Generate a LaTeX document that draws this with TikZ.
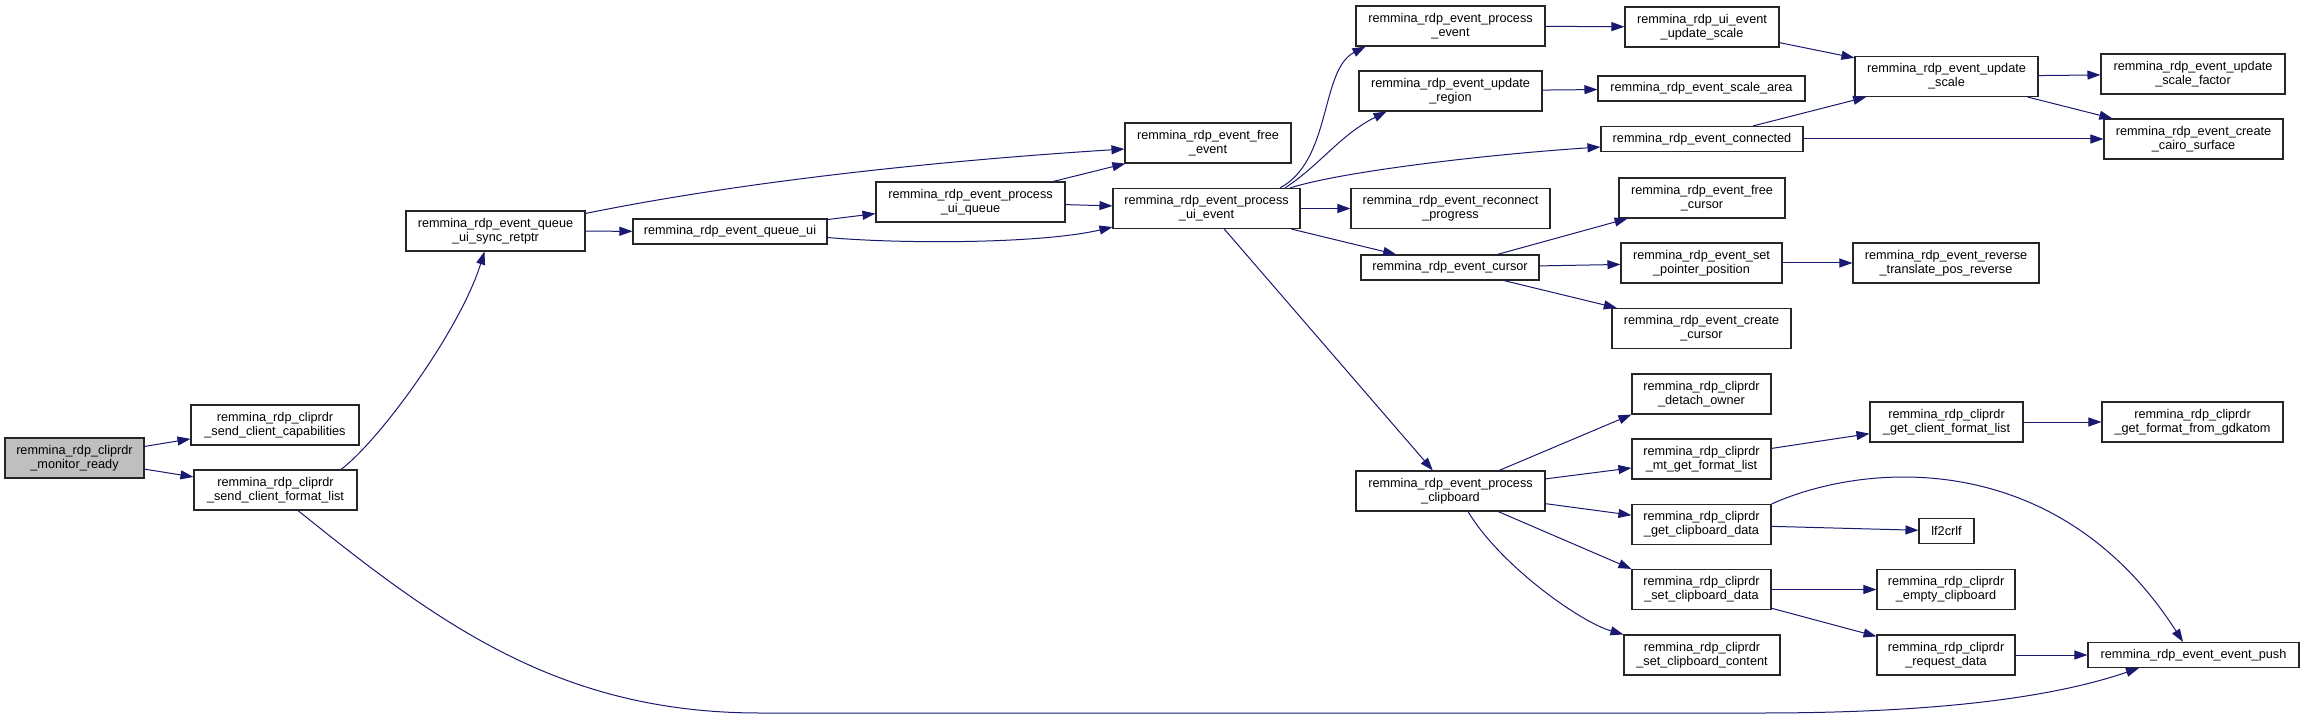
\documentclass[tikz,border=0pt]{standalone}
\usepackage{fontspec}
\setmainfont{Liberation Sans}
\usetikzlibrary{arrows.meta,calc}
\definecolor{edgeblue}{HTML}{191970}
\begin{document}
\begin{tikzpicture}[x=1pt,y=-1pt,
  box/.style={draw=black!85, line width=1.1pt, fill=white, inner sep=0pt, align=center,
    font=\fontsize{12.7pt}{14.3pt}\selectfont},
  tall/.style={minimum height=40pt},
  flat/.style={minimum height=25pt},
  call/.style={draw=edgeblue, line width=1pt, -{Triangle[length=13pt,width=9pt]}, fill=none},
]
\useasboundingbox[fill=white] (0,0) rectangle (2304,719);

% nodes
\node[box,tall,minimum width=139pt,fill=black!25] (mr) at (74.5,458) {remmina\_rdp\_cliprdr\\\_monitor\_ready};
\node[box,tall,minimum width=168pt] (scc) at (275,425) {remmina\_rdp\_cliprdr\\\_send\_client\_capabilities};
\node[box,tall,minimum width=163pt] (scfl) at (275.5,490) {remmina\_rdp\_cliprdr\\\_send\_client\_format\_list};
\node[box,tall,minimum width=179pt] (retptr) at (495.5,231) {remmina\_rdp\_event\_queue\\\_ui\_sync\_retptr};
\node[box,flat,minimum width=194pt] (qui) at (730,231.5) {remmina\_rdp\_event\_queue\_ui};
\node[box,tall,minimum width=189pt] (puiq) at (970.5,202) {remmina\_rdp\_event\_process\\\_ui\_queue};
\node[box,tall,minimum width=166pt] (fe) at (1208,143) {remmina\_rdp\_event\_free\\\_event};
\node[box,tall,minimum width=187pt] (puie) at (1206.5,208.5) {remmina\_rdp\_event\_process\\\_ui\_event};
\node[box,tall,minimum width=189pt] (pe) at (1450.5,26) {remmina\_rdp\_event\_process\\\_event};
\node[box,tall,minimum width=154pt] (uius) at (1702,27) {remmina\_rdp\_ui\_event\\\_update\_scale};
\node[box,tall,minimum width=183pt] (ur) at (1450.5,91) {remmina\_rdp\_event\_update\\\_region};
\node[box,flat,minimum width=207pt] (sa) at (1701.5,88.5) {remmina\_rdp\_event\_scale\_area};
\node[box,tall,minimum width=183pt] (eus) at (1946.5,76.5) {remmina\_rdp\_event\_update\\\_scale};
\node[box,tall,minimum width=184pt] (usf) at (2193,74) {remmina\_rdp\_event\_update\\\_scale\_factor};
\node[box,flat,minimum width=202pt] (conn) at (1702,139) {remmina\_rdp\_event\_connected};
\node[box,tall,minimum width=179pt] (ccs) at (2193.5,139) {remmina\_rdp\_event\_create\\\_cairo\_surface};
\node[box,tall,minimum width=199pt] (rp) at (1450.5,208.5) {remmina\_rdp\_event\_reconnect\\\_progress};
\node[box,tall,minimum width=166pt] (fc) at (1702,198) {remmina\_rdp\_event\_free\\\_cursor};
\node[box,flat,minimum width=178pt] (cur) at (1450,267.5) {remmina\_rdp\_event\_cursor};
\node[box,tall,minimum width=161pt] (spp) at (1701.5,263) {remmina\_rdp\_event\_set\\\_pointer\_position};
\node[box,tall,minimum width=186pt] (rtp) at (1946,263) {remmina\_rdp\_event\_reverse\\\_translate\_pos\_reverse};
\node[box,tall,minimum width=179pt] (cc) at (1701.5,328.5) {remmina\_rdp\_event\_create\\\_cursor};
\node[box,tall,minimum width=189pt] (pcb) at (1450.5,491) {remmina\_rdp\_event\_process\\\_clipboard};
\node[box,tall,minimum width=139pt] (det) at (1701.5,394) {remmina\_rdp\_cliprdr\\\_detach\_owner};
\node[box,tall,minimum width=139pt] (mgfl) at (1701.5,459) {remmina\_rdp\_cliprdr\\\_mt\_get\_format\_list};
\node[box,tall,minimum width=139pt] (gcd) at (1701.5,524.5) {remmina\_rdp\_cliprdr\\\_get\_clipboard\_data};
\node[box,flat,minimum width=55pt] (lf) at (1946.5,531) {lf2crlf};
\node[box,tall,minimum width=139pt] (scd) at (1701.5,589.5) {remmina\_rdp\_cliprdr\\\_set\_clipboard\_data};
\node[box,tall,minimum width=138pt] (ec) at (1946,589.5) {remmina\_rdp\_cliprdr\\\_empty\_clipboard};
\node[box,tall,minimum width=156pt] (sccont) at (1702,655) {remmina\_rdp\_cliprdr\\\_set\_clipboard\_content};
\node[box,tall,minimum width=138pt] (rd) at (1946,655) {remmina\_rdp\_cliprdr\\\_request\_data};
\node[box,tall,minimum width=153pt] (gcfl) at (1946.5,422) {remmina\_rdp\_cliprdr\\\_get\_client\_format\_list};
\node[box,tall,minimum width=181pt] (gffg) at (2192.5,422) {remmina\_rdp\_cliprdr\\\_get\_format\_from\_gdkatom};
\node[box,flat,minimum width=211pt] (eep) at (2193.5,655) {remmina\_rdp\_event\_event\_push};

% edges
\draw[call] (mr) -- (scc);
\draw[call] (mr) -- (scfl);
\draw[call] ($(scfl.north)+(65.5,0)$) .. controls (380,440) and (460,330) .. ($(retptr.south)+(-11,0)$);
\draw[call] ($(scfl.south)+(22.5,0)$) .. controls (440,625) and (560,713) .. (760,713)
   -- (1760,713) .. controls (1950,713) and (2060,695) .. ($(eep.south)+(-54.5,0)$);
\draw[call] (retptr) -- (qui);
\draw[call] ($(retptr.north east)+(0,3)$) .. controls (750,180) and (950,160) .. ($(fe.west)+(0,6)$);
\draw[call] (qui) -- (puiq);
\draw[call] ($(qui.east)+(0,6)$) .. controls (900,244) and (1040,244) .. ($(puie.south west)+(0,-2)$);
\draw[call] (puiq) -- (fe);
\draw[call] (puiq) -- (puie);
\draw[call] ($(puie.north)+(73.5,0)$) .. controls (1332,160) and (1320,70) .. ($(pe.south west)+(10,0)$);
\draw[call] ($(puie.north)+(78.5,0)$) .. controls (1320,165) and (1340,135) .. ($(ur.south west)+(28,0)$);
\draw[call] ($(puie.north)+(83.5,0)$) .. controls (1340,172) and (1480,155) .. ($(conn.west)+(0,8)$);
\draw[call] (puie) -- (rp);
\draw[call] (puie) -- (cur);
\draw[call] (puie) -- (pcb);
\draw[call] (pe) -- (uius);
\draw[call] (uius) -- (eus);
\draw[call] (ur) -- (sa);
\draw[call] (conn) -- (eus);
\draw[call] (conn) -- (ccs);
\draw[call] (eus) -- (usf);
\draw[call] (eus) -- (ccs);
\draw[call] (cur) -- (fc);
\draw[call] (cur) -- (spp);
\draw[call] (cur) -- (cc);
\draw[call] (spp) -- (rtp);
\draw[call] (pcb) -- (det.south west);
\draw[call] (pcb) -- (mgfl);
\draw[call] (pcb) -- (gcd);
\draw[call] (pcb) -- (scd.north west);
\draw[call] ($(pcb.south)+(17.5,0)$) .. controls (1500,565) and (1580,622) .. (sccont.north west);
\draw[call] (mgfl) -- (gcfl);
\draw[call] (gcfl) -- (gffg);
\draw[call] (gcd) -- (lf);
\draw[call] (gcd.north east) .. controls (1870,460) and (2060,450) .. ($(eep.north)+(-10.5,0)$);
\draw[call] (scd) -- (ec);
\draw[call] (scd) -- (rd);
\draw[call] (rd) -- (eep);
\end{tikzpicture}
\end{document}
